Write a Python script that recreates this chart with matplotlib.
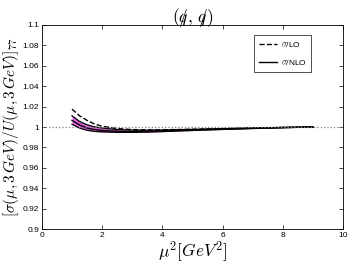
import matplotlib
matplotlib.use("Agg")
import matplotlib.pyplot as plt
import numpy as np

plt.rcParams['mathtext.fontset'] = 'cm'
plt.rcParams['font.family'] = ['Liberation Sans', 'DejaVu Sans']

mu2 = [1, 1.25, 1.5, 1.75, 2, 2.5, 3, 3.5, 4, 5, 6, 7, 8, 9]
lo = [1.0176, 1.011, 1.0065, 1.003, 1.0008, 0.9985, 0.9975, 0.9972, 0.9973, 0.9978, 0.9985, 0.9991, 0.9996, 1.0]
nlo = [1.0065, 1.002, 0.999, 0.9975, 0.9966, 0.9958, 0.9957, 0.9959, 0.9963, 0.9972, 0.998, 0.9988, 0.9995, 1.0]
nlo_up = [1.011, 1.0055, 1.0022, 1.0002, 0.999, 0.9975, 0.997, 0.9969, 0.997, 0.9977, 0.9984, 0.999, 0.9996, 1.0]
nlo_lo = [1.0027, 0.999, 0.9968, 0.9957, 0.9952, 0.9948, 0.9948, 0.995, 0.9955, 0.9966, 0.9976, 0.9985, 0.9993, 1.0]

fig = plt.figure(figsize=(3.49, 2.63), dpi=100)
ax = fig.add_axes([0.120, 0.129, 0.863, 0.776])

ax.fill_between(mu2, nlo_lo, nlo_up, color='#e060e0', lw=0)
ax.plot(mu2, nlo_up, 'k-', lw=0.9)
ax.plot(mu2, nlo_lo, 'k-', lw=0.9)
ax.plot(mu2, lo, 'k--', lw=1.0, label=r'$\sigma$/LO')
ax.plot(mu2, nlo, 'k-', lw=1.0, label=r'$\sigma$/NLO')
ax.axhline(1.0, color='gray', ls=':', lw=0.9)

ax.set_xlim(0, 10)
ax.set_ylim(0.9, 1.1)
ax.set_xticks([0, 2, 4, 6, 8, 10])
yt = np.arange(0.9, 1.1001, 0.02)
ax.set_yticks(yt)
ax.set_yticklabels(['%g' % round(v, 2) for v in yt])
ax.tick_params(direction='in', top=True, right=True, labelsize=6, length=3, width=0.5, pad=2)
for s in ax.spines.values():
    s.set_linewidth(0.6)

ax.set_xlabel(r'$\mu^2[GeV^2]$', fontsize=12.5, labelpad=0)
ax.set_ylabel(r'$[\sigma(\mu,3\,GeV)/U(\mu,3\,GeV)]_{77}$', fontsize=11)
ax.yaxis.set_label_coords(-0.07, 0.5)
ax.set_title(r'$(q\!\!\!/,\, q\!\!\!/)$', fontsize=12.5, pad=2)

leg = ax.legend(loc='upper right', bbox_to_anchor=(0.895, 0.95), borderaxespad=0, fontsize=6,
                frameon=True, fancybox=False, edgecolor='black', handlelength=2.2,
                handletextpad=0.4, borderpad=0.6, labelspacing=1.0)
leg.get_frame().set_linewidth(0.6)

fig.savefig('out.png', dpi=100)
